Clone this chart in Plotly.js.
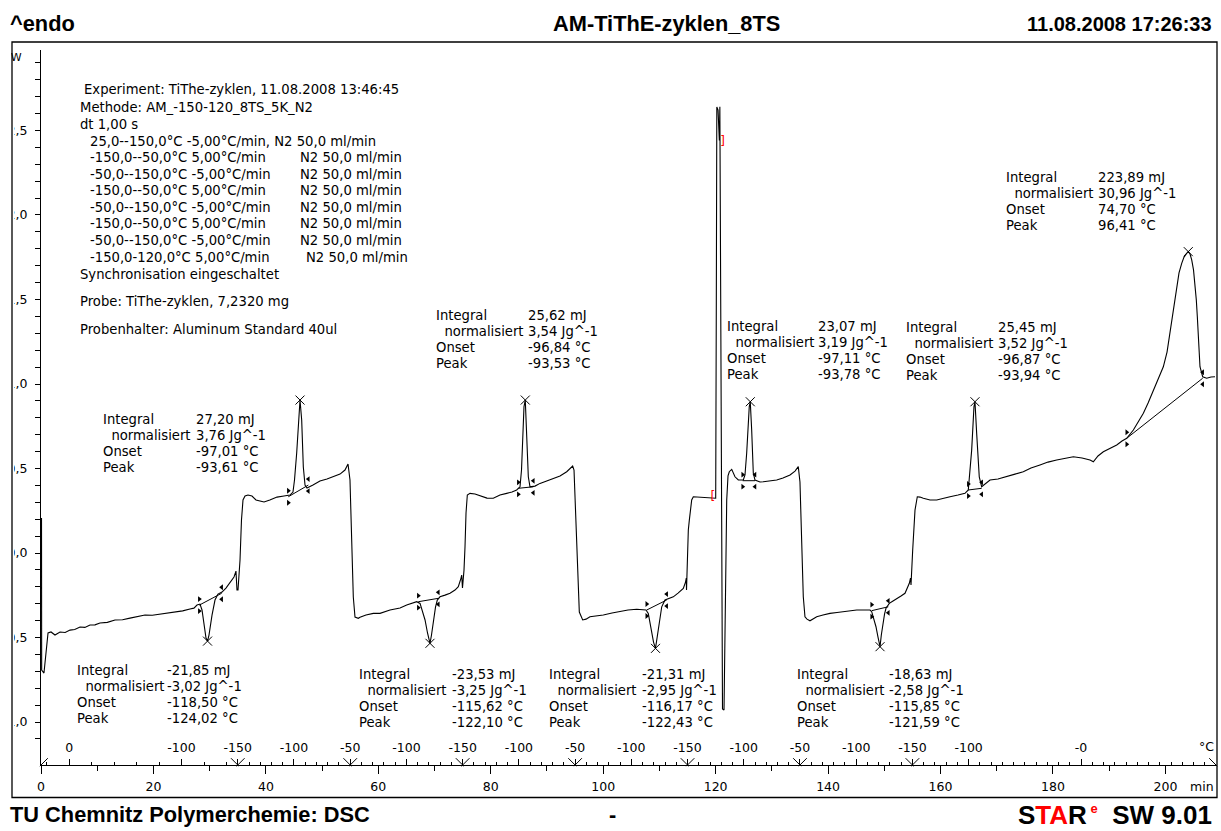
<!DOCTYPE html>
<html><head><meta charset="utf-8">
<script src="https://cdn.plot.ly/plotly-3.0.1.min.js"></script>
<style>html,body{margin:0;padding:0;background:#fff}#chart{width:1221px;height:831px}</style>
</head><body><div id="chart"></div>
<script>
// ---------- DSC curve (time in min, heat flow in mW) ----------
const timeMin = [
 0.09,0.12,0.53,0.89,1.25,1.78,2.49,3.38,4.30,5.16,6.00,6.94,7.80,8.72,9.60,10.49,11.80,13.16,14.50,15.83,17.20,18.50,19.80,21.17,22.50,23.84,25.20,26.50,27.20,27.75,28.28,
 28.64,28.99,29.35,29.62,29.88,30.42,30.95,31.48,32.20,32.90,33.60,34.33,34.68,34.86,35.04,35.40,35.66,35.93,36.29,36.82,37.53,38.24,38.95,39.67,40.70,41.98,43.22,44.29,44.82,
 45.09,45.48,45.89,46.07,46.37,46.66,46.96,47.31,48.38,49.62,50.87,51.94,53.19,54.07,54.61,54.96,55.26,55.55,55.85,56.44,
 56.74,57.81,59.11,60.30,62.08,63.86,65.05,66.83,67.42,67.95,68.31,68.75,69.19,69.46,69.78,70.17,70.49,70.97,71.86,72.75,73.64,74.23,74.71,74.83,74.97,
 75.24,75.42,75.60,75.83,76.31,77.20,78.09,79.33,80.45,81.64,82.83,83.78,84.61,85.20,85.47,85.61,85.91,86.14,86.39,86.68,86.98,87.87,88.76,90.00,91.12,92.32,93.51,94.57,94.81,95.29,95.75,96.35,96.94,
 97.65,98.90,100.02,101.57,102.99,104.41,105.96,107.61,108.02,108.32,108.63,108.95,109.30,109.57,109.80,110.10,110.41,110.99,111.88,112.47,113.31,114.25,114.64,114.78,114.82,
 114.96,115.14,115.32,115.74,116.03,116.86,117.81,118.64,119.48,120.01,120.12,120.21,120.43,120.66,120.75,120.86,121.04,121.22,121.49,121.75,121.97,122.20,122.43,122.86,123.17,123.44,124.03,124.63,124.92,
 125.22,125.52,125.98,126.16,126.41,126.70,127.00,127.89,128.48,129.67,130.86,131.98,133.23,134.12,134.70,135.00,135.31,135.59,135.89,136.25,136.78,
 137.98,139.10,140.34,141.59,142.71,143.90,145.09,146.21,147.46,147.76,148.17,148.52,148.88,149.24,149.47,149.72,150.04,150.30,150.89,151.55,152.21,152.97,153.68,154.45,154.66,154.75,
 155.05,155.28,155.46,155.87,156.35,156.94,158.13,159.32,160.44,161.69,163.11,164.35,164.94,165.24,165.54,165.95,166.13,166.43,166.89,167.32,167.91,168.80,170.22,171.77,173.25,174.72,176.09,177.69,179.12,180.66,182.14,183.62,185.17,186.59,187.18,188.01,188.96,190.15,191.34,192.28,193.12,
 194.30,195.14,196.08,196.92,197.86,198.70,199.63,200.29,200.82,201.44,202.01,202.42,202.90,203.31,203.79,204.07,204.38,204.68,205.00,205.26,205.50,205.68,205.89,206.15,206.63,207.34,208.11,208.82
];
const heatFlow = [
 0.207,-0.692,-0.710,-0.574,-0.473,-0.467,-0.485,-0.467,-0.470,-0.456,-0.452,-0.438,-0.440,-0.426,-0.425,-0.414,-0.410,-0.396,-0.395,-0.385,-0.378,-0.367,-0.368,-0.361,-0.355,-0.349,-0.342,-0.331,-0.326,-0.308,-0.302,
 -0.337,-0.426,-0.503,-0.521,-0.485,-0.367,-0.278,-0.243,-0.231,-0.207,-0.178,-0.142,-0.107,-0.219,-0.219,-0.041,0.195,0.314,0.337,0.343,0.337,0.314,0.308,0.302,0.314,0.331,0.337,0.343,0.361,
 0.432,0.592,0.864,0.905,0.787,0.509,0.402,0.385,0.402,0.426,0.438,0.450,0.467,0.491,0.527,0.432,0.036,-0.260,-0.379,-0.386,
 -0.380,-0.367,-0.357,-0.357,-0.337,-0.325,-0.308,-0.288,-0.298,-0.349,-0.396,-0.473,-0.534,-0.485,-0.396,-0.320,-0.278,-0.259,-0.249,-0.238,-0.219,-0.199,-0.148,-0.130,-0.207,
 -0.101,0.037,0.237,0.343,0.353,0.349,0.337,0.325,0.324,0.343,0.353,0.361,0.373,0.392,0.491,0.629,0.866,0.905,0.728,0.451,0.392,0.396,0.412,0.426,0.442,0.456,0.481,0.515,0.491,0.037,-0.349,-0.396,-0.391,
 -0.377,-0.373,-0.367,-0.355,-0.347,-0.337,-0.333,-0.337,-0.357,-0.408,-0.475,-0.527,-0.564,-0.503,-0.436,-0.367,-0.318,-0.278,-0.266,-0.259,-0.237,-0.209,-0.172,-0.148,-0.219,
 0.037,0.136,0.195,0.314,0.333,0.331,0.330,0.325,0.325,0.324,1.497,2.639,2.620,2.440,2.640,1.497,-0.278,-0.923,-0.929,-0.278,0.314,0.456,0.481,0.495,0.473,0.451,0.432,0.432,0.432,
 0.462,0.590,0.866,0.895,0.728,0.472,0.432,0.420,0.422,0.426,0.432,0.444,0.462,0.485,0.511,0.420,0.030,-0.259,-0.377,-0.391,-0.401,
 -0.377,-0.367,-0.357,-0.352,-0.347,-0.343,-0.337,-0.337,-0.337,-0.347,-0.391,-0.436,-0.497,-0.554,-0.485,-0.416,-0.361,-0.327,-0.298,-0.284,-0.268,-0.254,-0.238,-0.179,-0.148,-0.189,
 0.018,0.166,0.254,0.333,0.331,0.324,0.314,0.314,0.325,0.333,0.343,0.353,0.373,0.491,0.609,0.866,0.895,0.708,0.451,0.392,0.408,0.432,0.438,0.451,0.467,0.481,0.503,0.521,0.538,0.550,0.562,0.570,0.562,0.550,0.540,0.574,0.599,0.621,0.639,0.663,0.679,
 0.728,0.775,0.827,0.888,0.964,1.024,1.102,1.189,1.300,1.438,1.556,1.657,1.714,1.751,1.773,1.783,1.769,1.734,1.675,1.596,1.497,1.398,1.260,1.102,1.043,1.034,1.041,1.043
];
// peak maxima (X marks)
const peakTime = [29.62, 46.07, 69.19, 86.14, 109.30, 126.16, 149.24, 166.13, 204.07];
const peakFlow = [-0.521, 0.905, -0.534, 0.905, -0.564, 0.895, -0.554, 0.895, 1.783];
// integration baselines
const baseStartTime = [28.16, 43.99, 67.11, 84.90, 107.74, 124.81, 147.76, 164.94, 193.12];
const baseStartFlow = [-0.308, 0.333, -0.288, 0.383, -0.337, 0.428, -0.341, 0.373, 0.679];
const baseEndTime   = [32.14, 47.55, 70.67, 87.57, 111.29, 127.00, 150.71, 167.32, 206.63];
const baseEndFlow   = [-0.238, 0.402, -0.268, 0.392, -0.278, 0.428, -0.318, 0.383, 1.034];
// integration limits of the spike (red brackets)
const limitTime = [119.48, 121.25];
const limitFlow = [0.331, 2.43];
const limitText = ['[', ']'];

// temperature program
const segStartTemp = [25, -150, -50, -150, -50, -150, -50, -150];
const segEndTemp   = [-150, -50, -150, -50, -150, -50, -150, 120];
const segRateKmin  = [-5, 5, -5, 5, -5, 5, -5, 5];
const segTickStepK = [20, 10, 10, 10, 10, 10, 10, 10];
const tempLabelSeg  = [0, 0, 0, 1, 1, 2, 2, 3, 3, 4, 4, 5, 5, 6, 6, 7, 7];
const tempLabelTemp = [0, -100, -150, -100, -50, -100, -150, -100, -50, -100, -150, -100, -50, -100, -150, -100, 0];
const tempLabelText = ["0","-100","-150","-100","-50","-100","-150","-100","-50","-100","-150","-100","-50","-100","-150","-100","-0"];

// y ticks
const yTickValues = [-1.0, -0.5, 0.0, 0.5, 1.0, 1.5, 2.0, 2.5];

// texts
const infoLines = [
 "Experiment: TiThe-zyklen, 11.08.2008 13:46:45",
 "Methode: AM_-150-120_8TS_5K_N2",
 "dt 1,00 s",
 "25,0--150,0°C -5,00°C/min, N2 50,0 ml/min",
 "-150,0--50,0°C 5,00°C/min",
 "-50,0--150,0°C -5,00°C/min",
 "-150,0--50,0°C 5,00°C/min",
 "-50,0--150,0°C -5,00°C/min",
 "-150,0--50,0°C 5,00°C/min",
 "-50,0--150,0°C -5,00°C/min",
 "-150,0-120,0°C 5,00°C/min",
 "Synchronisation eingeschaltet",
 "Probe: TiThe-zyklen, 7,2320 mg",
 "Probenhalter: Aluminum Standard 40ul"
];
const infoGas = ["N2 50,0 ml/min","N2 50,0 ml/min","N2 50,0 ml/min","N2 50,0 ml/min","N2 50,0 ml/min","N2 50,0 ml/min","N2 50,0 ml/min"];
const resultLabels = ["Integral", "\u00a0\u00a0normalisiert", "Onset", "Peak"];
const resultValues = [
 ["27,20 mJ","3,76 Jg^-1","-97,01 °C","-93,61 °C"],
 ["-21,85 mJ","-3,02 Jg^-1","-118,50 °C","-124,02 °C"],
 ["25,62 mJ","3,54 Jg^-1","-96,84 °C","-93,53 °C"],
 ["-23,53 mJ","-3,25 Jg^-1","-115,62 °C","-122,10 °C"],
 ["-21,31 mJ","-2,95 Jg^-1","-116,17 °C","-122,43 °C"],
 ["23,07 mJ","3,19 Jg^-1","-97,11 °C","-93,78 °C"],
 ["25,45 mJ","3,52 Jg^-1","-96,87 °C","-93,94 °C"],
 ["-18,63 mJ","-2,58 Jg^-1","-115,85 °C","-121,59 °C"],
 ["223,89 mJ","30,96 Jg^-1","74,70 °C","96,41 °C"]
];

// ---------- layout geometry (pixels) ----------
const W = 1221, H = 831;
const plotL = 41, plotR = 1216, plotT = 50, plotB = 765;
const xRange = [0, 209], yRange = [-1.254, 2.976];
const PX = X => (X - plotL) / (plotR - plotL);
const PY = Y => (plotB - Y) / (plotB - plotT);
const minPerPx = (xRange[1]-xRange[0])/(plotR-plotL);
const flowPerPx = (yRange[1]-yRange[0])/(plotB-plotT);

// temperature axis from program
const segStartTime = [];
let tAcc = 0;
for (let i = 0; i < segStartTemp.length; i++) {
  segStartTime.push(tAcc);
  tAcc += (segEndTemp[i] - segStartTemp[i]) / segRateKmin[i];
}
const timeAt = (s, T) => segStartTime[s] + (T - segStartTemp[s]) / segRateKmin[s];
const labelTimes = tempLabelTemp.map((T, i) => timeAt(tempLabelSeg[i], T));
const minorTempTimes = [];
for (let s = 0; s < segStartTemp.length; s++) {
  const lo = Math.min(segStartTemp[s], segEndTemp[s]), hi = Math.max(segStartTemp[s], segEndTemp[s]);
  const st = segTickStepK[s];
  for (let T = Math.ceil(lo / st) * st; T <= hi; T += st) {
    if (T === segStartTemp[s] || T === segEndTemp[s]) continue;
    let isLab = false;
    tempLabelTemp.forEach((LT, i) => { if (tempLabelSeg[i] === s && LT === T) isLab = true; });
    if (!isLab) minorTempTimes.push(timeAt(s, T));
  }
}
const turnTimes = segStartTime.slice(1);

// ---------- traces ----------
const traces = [];
traces.push({x: timeMin, y: heatFlow, mode: 'lines', line: {color: '#000', width: 1.1}, hoverinfo: 'skip'});
const bx = [], by = [];
baseStartTime.forEach((t, i) => { bx.push(t, baseEndTime[i], null); by.push(baseStartFlow[i], baseEndFlow[i], null); });
traces.push({x: bx, y: by, mode: 'lines', line: {color: '#000', width: 1}, hoverinfo: 'skip'});
traces.push({x: peakTime, y: peakFlow, mode: 'markers', marker: {symbol: 'x-thin-open', size: 9, color: '#000', line: {width: 1, color: '#000'}}, hoverinfo: 'skip'});
const triOff = 6 * flowPerPx;
const trX = [], trY = [], trS = [];
baseStartTime.forEach((t, i) => {
  trX.push(t, t); trY.push(baseStartFlow[i] + triOff, baseStartFlow[i] - triOff); trS.push('triangle-right', 'triangle-right');
  trX.push(baseEndTime[i], baseEndTime[i]); trY.push(baseEndFlow[i] + triOff, baseEndFlow[i] - triOff); trS.push('triangle-left', 'triangle-left');
});
traces.push({x: trX, y: trY, mode: 'markers', marker: {symbol: trS, size: 5, color: '#000'}, hoverinfo: 'skip'});
traces.push({x: limitTime, y: limitFlow, mode: 'text', text: limitText, textposition: 'middle center', textfont: {color: '#ff0000', size: 12, family: 'DejaVu Sans'}, hoverinfo: 'skip'});
// V marks at turning points of the temperature programme + start/end marks
const vdx = 2.8 * minPerPx, vdy = 2.8 * flowPerPx;
const vY = yRange[0] + vdy;
const nwX = turnTimes.map(t => t - vdx).concat([xRange[1] - vdx]);
const neX = turnTimes.map(t => t + vdx).concat([xRange[0] + vdx]);
traces.push({x: nwX, y: nwX.map(() => vY), xaxis: 'x2', mode: 'markers', cliponaxis: false, marker: {symbol: 'line-nw-open', size: 8, color: '#000', line: {width: 1, color: '#000'}}, hoverinfo: 'skip'});
traces.push({x: neX, y: neX.map(() => vY), xaxis: 'x2', mode: 'markers', cliponaxis: false, marker: {symbol: 'line-ne-open', size: 8, color: '#000', line: {width: 1, color: '#000'}}, hoverinfo: 'skip'});

// ---------- annotations ----------
const axisFont = {family: 'DejaVu Sans', size: 12.5, color: '#000'};
const smallFont = {family: 'DejaVu Sans', size: 13.2, color: '#000'};
const headFont = {family: 'Liberation Sans', size: 21.8, color: '#000', weight: 'bold'};
const dateFont = {family: 'Liberation Sans', size: 20, color: '#000', weight: 'bold'};
const starFont = {family: 'Liberation Sans', size: 26, color: '#000', weight: 'bold'};
const A = (text, X, Y, anchor, font) => ({text: text, xref: 'paper', yref: 'paper', x: PX(X), y: PY(Y),
  xanchor: anchor || 'left', yanchor: 'middle', showarrow: false, borderpad: 0, borderwidth: 0, align: 'left', font: font || smallFont});
const annotations = [];
const infoX = [84, 80, 80, 90, 90, 90, 90, 90, 90, 90, 90, 80, 80, 80];
const infoY = [89, 107, 124, 141, 157, 174, 190, 207, 224, 240, 257, 274, 301, 330];
infoLines.forEach((s, i) => annotations.push(A(s, infoX[i], infoY[i])));
infoGas.forEach((s, i) => annotations.push(A(s, i === 6 ? 306 : 300, infoY[i + 4])));
const blockX = [103, 77, 436, 359, 549, 727, 906, 797, 1006];
const blockY = [419, 670, 315, 674, 674, 326, 327, 674, 177];
const blockVX = [196, 167, 528, 452, 642, 818, 998, 889, 1098];
resultValues.forEach((vals, b) => {
  for (let k = 0; k < 4; k++) {
    annotations.push(A(resultLabels[k], blockX[b], blockY[b] + k * 16.3));
    annotations.push(A(vals[k], blockVX[b], blockY[b] + k * 16.3));
  }
});
// y unit, partly hidden behind the frame edge as in the reference
annotations.push(A('mW', 22, 57, 'right', {family: 'DejaVu Sans', size: 11, color: '#000'}));
annotations.push(Object.assign(A('\u00a0', 0, 57, 'left'), {width: 11.2, height: 16, bgcolor: '#fff'}));
annotations.push(A('°C', 1214, 746, 'right', axisFont));
annotations.push(A('min', 1214, 787, 'right', axisFont));
annotations.push(A('^endo', 10, 24, 'left', headFont));
annotations.push(A('AM-TiThE-zyklen_8TS', 666, 24, 'center', headFont));
annotations.push(A('11.08.2008 17:26:33', 1212, 24, 'right', dateFont));
annotations.push(A('TU Chemnitz Polymerchemie: DSC', 10, 814, 'left', headFont));
annotations.push(A('-', 612, 814, 'center', headFont));
annotations.push(A('S<span style="color:#ff0000">TA</span>R<sup><span style="color:#ff0000;font-size:13px">\u00a0e</span></sup>\u00a0\u00a0SW 9.01', 1212, 815, 'right', starFont));

const layout = {
  width: W, height: H, autosize: false,
  margin: {l: plotL, r: W - plotR, t: plotT, b: H - plotB, pad: 0},
  paper_bgcolor: '#fff', plot_bgcolor: '#fff', showlegend: false,
  font: axisFont,
  xaxis: {range: xRange, showgrid: false, zeroline: false, showline: true, linecolor: '#000', linewidth: 1,
    ticks: 'outside', ticklen: 8, tickwidth: 1, tickcolor: '#000', tickmode: 'linear', tick0: 0, dtick: 20,
    ticklabelstandoff: 2,
    minor: {tickmode: 'linear', tick0: 0, dtick: 10, ticks: 'outside', ticklen: 5, tickwidth: 1, tickcolor: '#000'},
    tickfont: axisFont, fixedrange: true},
  xaxis2: {overlaying: 'x', anchor: 'y', side: 'bottom', range: xRange, showgrid: false, zeroline: false, showline: false,
    ticks: 'inside', ticklen: 6, tickwidth: 1, tickcolor: '#000', tickmode: 'array', tickvals: labelTimes, ticktext: tempLabelText,
    ticklabelposition: 'inside', ticklabelstandoff: 4, tickfont: axisFont,
    minor: {tickmode: 'array', tickvals: minorTempTimes, ticks: 'inside', ticklen: 3.5, tickwidth: 1, tickcolor: '#000'},
    fixedrange: true},
  yaxis: {range: yRange, showgrid: false, zeroline: false, showline: true, linecolor: '#000', linewidth: 1,
    ticks: 'outside', ticklen: 5, tickwidth: 1, tickcolor: '#000', tickmode: 'array', tickvals: yTickValues,
    ticktext: yTickValues.map(v => v.toFixed(1).replace('.', ',')), ticklabelstandoff: 5,
    minor: {tickmode: 'linear', tick0: 0, dtick: 0.1, ticks: 'outside', ticklen: 5, tickwidth: 1, tickcolor: '#000'},
    tickfont: axisFont, fixedrange: true},
  shapes: [
    {type: 'rect', xref: 'paper', yref: 'paper', x0: PX(-5), x1: PX(14), y0: PY(797), y1: PY(42), fillcolor: '#fff', line: {width: 0}, layer: 'above'},
    {type: 'rect', xref: 'paper', yref: 'paper', x0: PX(12), x1: PX(1217), y0: PY(797.5), y1: PY(42), fillcolor: 'rgba(0,0,0,0)', line: {width: 1.3, color: '#000'}, layer: 'above'}
  ],
  annotations: annotations
};
Plotly.newPlot('chart', traces, layout, {displayModeBar: false, staticPlot: true});
</script></body></html>
